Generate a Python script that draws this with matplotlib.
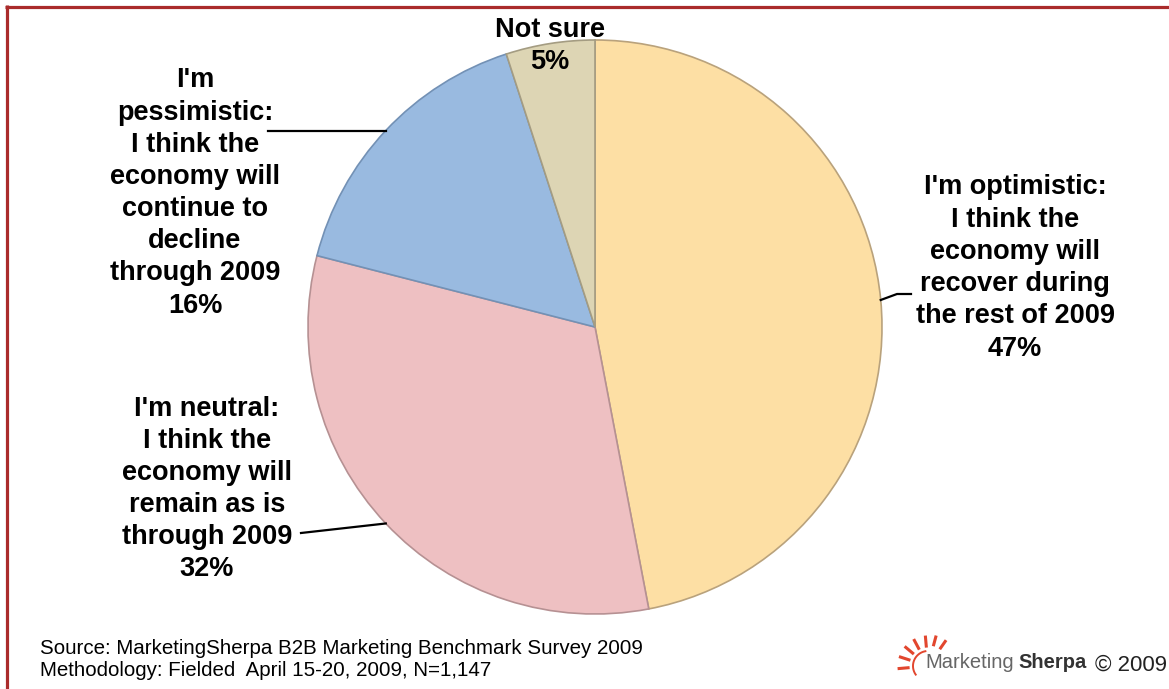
import numpy as np
import matplotlib
matplotlib.use("Agg")
import matplotlib.pyplot as plt
from matplotlib.lines import Line2D

# Survey answers, clockwise from 12 o'clock
labels = [
    "I'm optimistic:\nI think the\neconomy will\nrecover during\nthe rest of 2009",
    "I'm neutral:\nI think the\neconomy will\nremain as is\nthrough 2009",
    "I'm\npessimistic:\nI think the\neconomy will\ncontinue to\ndecline\nthrough 2009",
    "Not sure",
]
shares = [47, 32, 16, 5]
colors = ["#FDDFA4", "#EEC0C2", "#99BAE0", "#DDD5B4"]
edges = ["#B9A27C", "#B69193", "#7391B5", "#A49C82"]

source_lines = [
    "Source: MarketingSherpa B2B Marketing Benchmark Survey 2009",
    "Methodology: Fielded  April 15-20, 2009, N=1,147",
]

W, H = 1169, 689
fig = plt.figure(figsize=(W / 100, H / 100), dpi=100)
fig.patch.set_facecolor("white")
plt.rcParams["font.family"] = ["Liberation Sans", "DejaVu Sans"]


def fx(px):
    return px / W


def fy(py):
    return 1 - py / H


# pie placed by its pixel centre and radius
cx, cy, R = 595, 327, 287
ax = fig.add_axes([fx(cx - R), fy(cy + R), 2 * R / W, 2 * R / H])

wedges, _ = ax.pie(
    shares, colors=colors, startangle=90, counterclock=False, radius=1.0,
    wedgeprops=dict(linewidth=1.2),
)
for w, ec in zip(wedges, edges):
    w.set_edgecolor(ec)
ax.set_xlim(-1, 1)
ax.set_ylim(-1, 1)
ax.set_aspect("equal")
ax.axis("off")


def to_data(px, py):
    return (px - cx) / R, (cy - py) / R


def mid_point(i):
    t1, t2 = wedges[i].theta1, wedges[i].theta2
    theta = np.deg2rad((t1 + t2) / 2)
    return np.cos(theta), np.sin(theta)


# leader lines from slice mid-points to the label blocks
leader_ends = {
    0: [(897, 294), (911, 294)],
    1: [(301, 533)],
    2: [(268, None)],
}
for i, pts in leader_ends.items():
    x0, y0 = mid_point(i)
    xs, ys = [x0], [y0]
    for px, py in pts:
        dx, dy = to_data(px, py if py is not None else cy)
        xs.append(dx)
        ys.append(dy if py is not None else y0)
    ax.add_line(Line2D(xs, ys, color="black", lw=1.6, clip_on=False))

label_pos = [(1015, 268), (207, 489), (195, 193), (550, 46)]
font = dict(fontsize=19.5, fontweight="bold", ha="center", va="center",
            linespacing=1.31, color="black")
for lab, val, (px, py) in zip(labels, shares, label_pos):
    fig.text(fx(px), fy(py), f"{lab}\n{val}%", **font)

# frame lines along the top and left edges
fig.add_artist(Line2D([fx(5), 1.0], [fy(6.5), fy(6.5)], transform=fig.transFigure,
                      color="#AA2B2B", lw=2.3, solid_capstyle="butt"))
fig.add_artist(Line2D([fx(6.5), fx(6.5)], [fy(5), 0], transform=fig.transFigure,
                      color="#AA2B2B", lw=2.3, solid_capstyle="butt"))

# source notes
for k, line in enumerate(source_lines):
    fig.text(fx(40), fy(648 + 23 * k), line, fontsize=14.8, ha="left", va="center",
             color="black")

# logo: sun rays and wordmark
sx, sy = 928, 666
for ang in [95, 118, 140, 162, 185]:
    a = np.deg2rad(ang)
    r0, r1 = 20, 29
    fig.add_artist(Line2D([fx(sx + r0 * np.cos(a)), fx(sx + r1 * np.cos(a))],
                          [fy(sy - r0 * np.sin(a)), fy(sy - r1 * np.sin(a))],
                          transform=fig.transFigure, color="#E2462E", lw=2.2))
for ang in [75, 55]:
    a = np.deg2rad(ang)
    r0, r1 = 22, 30
    fig.add_artist(Line2D([fx(sx + r0 * np.cos(a)), fx(sx + r1 * np.cos(a))],
                          [fy(sy - r0 * np.sin(a)), fy(sy - r1 * np.sin(a))],
                          transform=fig.transFigure, color="#E2462E", lw=2.2))
arc_t = np.linspace(np.deg2rad(100), np.deg2rad(215), 30)
fig.add_artist(Line2D(fx(sx + 15 * np.cos(arc_t)), fy(sy - 15 * np.sin(arc_t)),
                      transform=fig.transFigure, color="#E2462E", lw=1.4))

fig.text(fx(925), fy(663), "Marketing", fontsize=14.5, color="#666666",
         ha="left", va="center")
fig.text(fx(1018), fy(663), "Sherpa", fontsize=14.5, fontweight="bold",
         color="#333333", ha="left", va="center")
fig.text(fx(1095), fy(665), "\u00a9 2009", fontsize=16, color="#222222",
         ha="left", va="center")

fig.savefig("out.png", dpi=100, facecolor="white")
